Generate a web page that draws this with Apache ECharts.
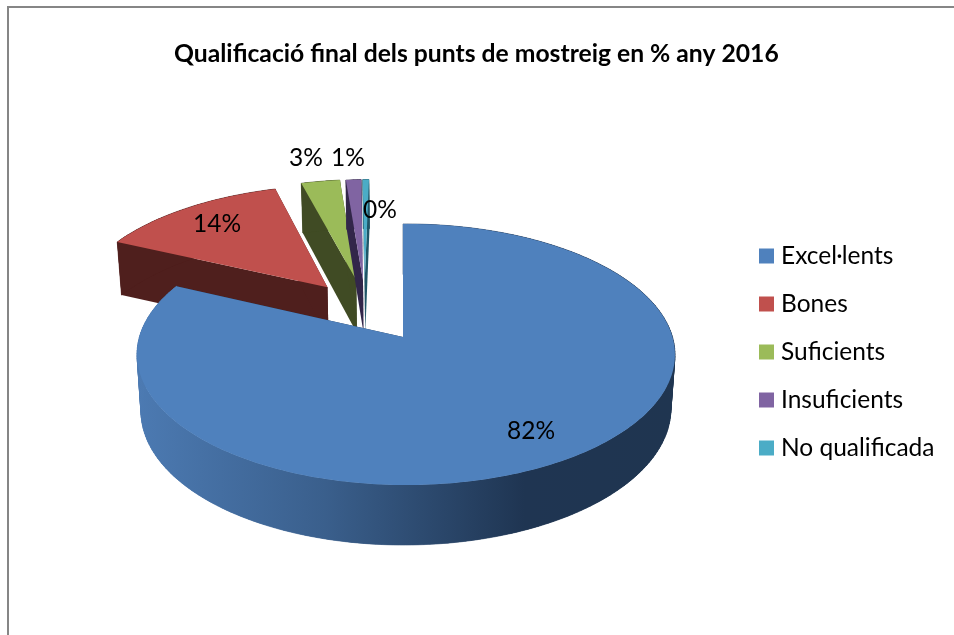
<!DOCTYPE html>
<html lang="ca">
<head>
	<meta charset="UTF-8">
	<title>Qualificació final</title>
	<script src="https://cdn.jsdelivr.net/npm/echarts@6/dist/echarts.min.js"></script>
	<style>
		html,body{margin:0;padding:0;background:#fff;overflow:hidden}
		#chart{width:954px;height:635px}
	</style>
</head>
<body>
<div id="chart"></div>
<script>
	var titleText = 'Qualificació final dels punts de mostreig en % any 2016';
	var categories = ['Excel·lents','Bones','Suficients','Insuficients','No qualificada'];
	var shares = [81.9,13.7,2.8,1.1,0.45];
	var topColors = ['#4f81bd','#c0504d','#9bbb59','#8064a2','#4bacc6'];
	var wallColors = ['#1f3550','#4f1f1d','#404b24','#32264a','#1f5566'];

	// exploded centre of each slice, in units of the pie radius
	var explode = [[0,0],[-0.3,-0.4115],[-0.187,-0.473],[-0.16,-0.473],[-0.153,-0.473]];
	// centre of each percent label, in pixels
	var labelPos = [[531,431],[217,224],[306,158],[348,158],[380,210]];

	var total = shares.reduce(function(a,b){return a+b;},0);
	var starts = [];
	var sum = 0;
	for(var i=0;i<shares.length;i++){
		starts.push(sum/total*Math.PI*2);
		sum += shares[i];
	}

	// perspective of the tilted pie
	var x0=403,y0=337,rx=266.5,ry=128.2,kv=0.134,ku=0.011;
	function topPoint(u,v){
		var d = 1-kv*v-ku*u;
		return [x0+rx*u/d, y0+ry*v/d];
	}
	function lowPoint(u,v){
		var p = topPoint(u,v);
		return [x0+(p[0]-x0)*0.985, p[1]+54.9/(1-0.0846*v)-1.5*u];
	}
	function onRim(i,a,fn){
		return fn(explode[i][0]+Math.sin(a), explode[i][1]-Math.cos(a));
	}

	function renderSlice(params,api){
		var i = api.value(0);
		var a0 = starts[i];
		var a1 = a0+shares[i]/total*Math.PI*2;
		var steps = Math.max(2,Math.ceil((a1-a0)/0.02));
		var topArc = [], lowArc = [];
		for(var s=0;s<=steps;s++){
			var a = a0+(a1-a0)*s/steps;
			topArc.push(onRim(i,a,topPoint));
			lowArc.push(onRim(i,a,lowPoint));
		}
		var cTop = topPoint(explode[i][0],explode[i][1]);
		var cLow = lowPoint(explode[i][0],explode[i][1]);
		var wallFill = wallColors[i];
		if(i === 0){
			wallFill = {type:'linear',x:137,y:0,x2:675,y2:0,global:true,colorStops:[
				{offset:0,color:'#4c7ab2'},
				{offset:0.35,color:'#3a5f8c'},
				{offset:0.72,color:'#1f3552'},
				{offset:1,color:'#1f3550'}
			]};
		}
		var children = [
			{type:'polygon',shape:{points:[cTop,topArc[0],lowArc[0],cLow]},style:{fill:wallColors[i]}},
			{type:'polygon',shape:{points:[cTop,topArc[steps],lowArc[steps],cLow]},style:{fill:wallColors[i]}}
		];
		// small quads under the wall close the gap at the left and right silhouette
		for(var q=0;q<steps;q++){
			children.push({
				type:'polygon',
				shape:{points:[topArc[q],topArc[q+1],lowArc[q+1],lowArc[q]]},
				style:{fill:wallFill,stroke:wallFill,lineWidth:0.6}
			});
		}
		children.push({type:'polygon',shape:{points:topArc.concat(lowArc.slice().reverse())},style:{fill:wallFill}});
		children.push({type:'polygon',shape:{points:[cTop].concat(topArc)},style:{fill:topColors[i]}});
		children.push({type:'text',x:labelPos[i][0],y:labelPos[i][1],style:{
			text:Math.round(shares[i]/total*100)+'%',
			fill:'#000',
			font:'24.5px Lato',
			align:'center',
			verticalAlign:'middle'
		}});
		return {type:'group',children:children};
	}

	var seriesList = [];
	for(var n=0;n<categories.length;n++){
		seriesList.push({
			name:categories[n],
			type:'custom',
			coordinateSystem:'none',
			silent:true,
			z:n === 0 ? 3 : 2,
			itemStyle:{color:topColors[n]},
			renderItem:renderSlice,
			data:[[n]]
		});
	}

	var chart = echarts.init(document.getElementById('chart'));
	chart.setOption({
		animation:false,
		backgroundColor:'#fff',
		title:{
			text:titleText,
			left:169,
			top:37,
			textStyle:{fontFamily:'Lato',fontSize:24.7,fontWeight:'bold',color:'#000'}
		},
		legend:{
			data:categories,
			orient:'vertical',
			left:754,
			top:238,
			icon:'rect',
			itemWidth:15,
			itemHeight:15,
			itemGap:22,
			selectedMode:false,
			textStyle:{fontFamily:'Lato',fontSize:24.5,color:'#000',lineHeight:26,padding:[0,0,0,2]}
		},
		graphic:[{
			type:'polyline',
			shape:{points:[[8,635],[8,7],[954,7]]},
			style:{stroke:'#868686',lineWidth:2,fill:null}
		}],
		series:seriesList
	});
</script>
</body>
</html>
